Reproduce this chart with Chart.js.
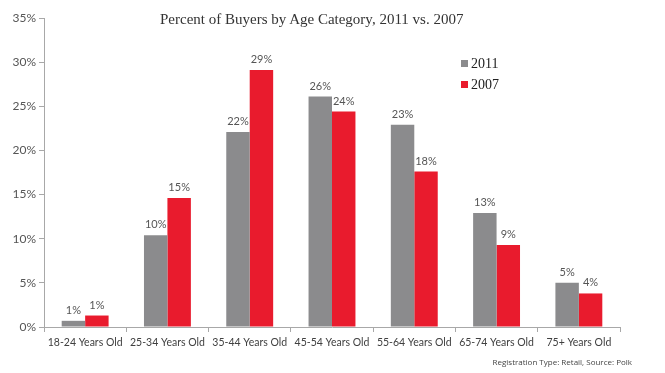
<!DOCTYPE html>
<html>
<head>
<meta charset="utf-8">
<script src="https://cdn.jsdelivr.net/npm/chart.js@4.4.1/dist/chart.umd.min.js"></script>
<style>
  body { margin: 0; background: #fff; }
  #wrap { position: relative; width: 665px; height: 373px; }
  #title { position: absolute; left: 160px; top: 11px; white-space: nowrap;
    font-family: "Liberation Serif", serif; font-size: 15px; color: #333; }
  #legend { position: absolute; left: 461px; top: 53px; font-family: "Liberation Serif", serif; font-size: 14px; color: #222; }
  #legend div { height: 21px; line-height: 21px; }
  #legend span { display: inline-block; width: 7px; height: 7px; margin-right: 3px; vertical-align: 1px; }
  #source { position: absolute; right: 33px; top: 356px; font-family: "Open Sans", sans-serif; font-size: 8px; color: #444; }
</style>
</head>
<body>
<div id="wrap">
  <canvas id="ageChart" width="665" height="373"></canvas>
  <div id="title">Percent of Buyers by Age Category, 2011 vs. 2007</div>
  <div id="legend"></div>
  <div id="source">Registration Type: Retail, Source: Polk</div>
</div>
<script>
const categories = ['18-24 Years Old', '25-34 Years Old', '35-44 Years Old', '45-54 Years Old',
    '55-64 Years Old', '65-74 Years Old', '75+ Years Old'];
const buyers2011 = [0.7, 10.4, 22.1, 26.1, 22.9, 12.9, 5.0];
const buyers2007 = [1.3, 14.6, 29.1, 24.4, 17.6, 9.3, 3.8];
const seriesNames = ['2011', '2007'];
const seriesColors = ['#8b8b8d', '#e91b2d'];

// labels above each bar
const barLabels = {
    id: 'barLabels',
    afterDatasetsDraw(chart) {
        const c = chart.ctx;
        c.save();
        c.font = '11px Lato, sans-serif';
        c.fillStyle = '#555';
        c.textAlign = 'center';
        c.textBaseline = 'bottom';
        chart.data.datasets.forEach((ds, i) => {
            chart.getDatasetMeta(i).data.forEach((bar, j) => {
                c.fillText(Math.round(ds.data[j]) + '%', bar.x, bar.y - 5);
            });
        });
        c.restore();
    }
};

const ctx = document.getElementById('ageChart').getContext('2d');
const ageChart = new Chart(ctx, {
    type: 'bar',
    data: {
        labels: categories,
        datasets: [
            { label: seriesNames[0], data: buyers2011, backgroundColor: seriesColors[0] },
            { label: seriesNames[1], data: buyers2007, backgroundColor: seriesColors[1] }
        ]
    },
    options: {
        responsive: false,
        animation: false,
        categoryPercentage: 0.57,
        barPercentage: 1,
        layout: { padding: { top: 18, right: 45, left: 0, bottom: 0 } },
        plugins: {
            legend: { display: false },
            title: { display: false },
            tooltip: { enabled: false }
        },
        scales: {
            x: {
                afterFit(s) { s.height = 46; },
                grid: { offset: true, drawOnChartArea: false, tickLength: 5, color: '#a8a8a8' },
                border: { color: '#a8a8a8' },
                ticks: { autoSkip: false, color: '#404040', font: { family: 'Lato, sans-serif', size: 10.5 }, padding: 4, maxRotation: 0 }
            },
            y: {
                min: 0, max: 35,
                afterFit(s) { s.width = 44; },
                grid: { drawOnChartArea: false, tickLength: 5, color: '#a8a8a8' },
                border: { color: '#a8a8a8' },
                ticks: { stepSize: 5, color: '#555', padding: 3,
                    font: { family: 'Lato, sans-serif', size: 12 },
                    callback: v => v + '%' }
            }
        }
    },
    plugins: [barLabels]
});

document.getElementById('legend').innerHTML = seriesNames.map((n, i) =>
    '<div><span style="background:' + seriesColors[i] + '"></span>' + n + '</div>').join('');
</script>
</body>
</html>
